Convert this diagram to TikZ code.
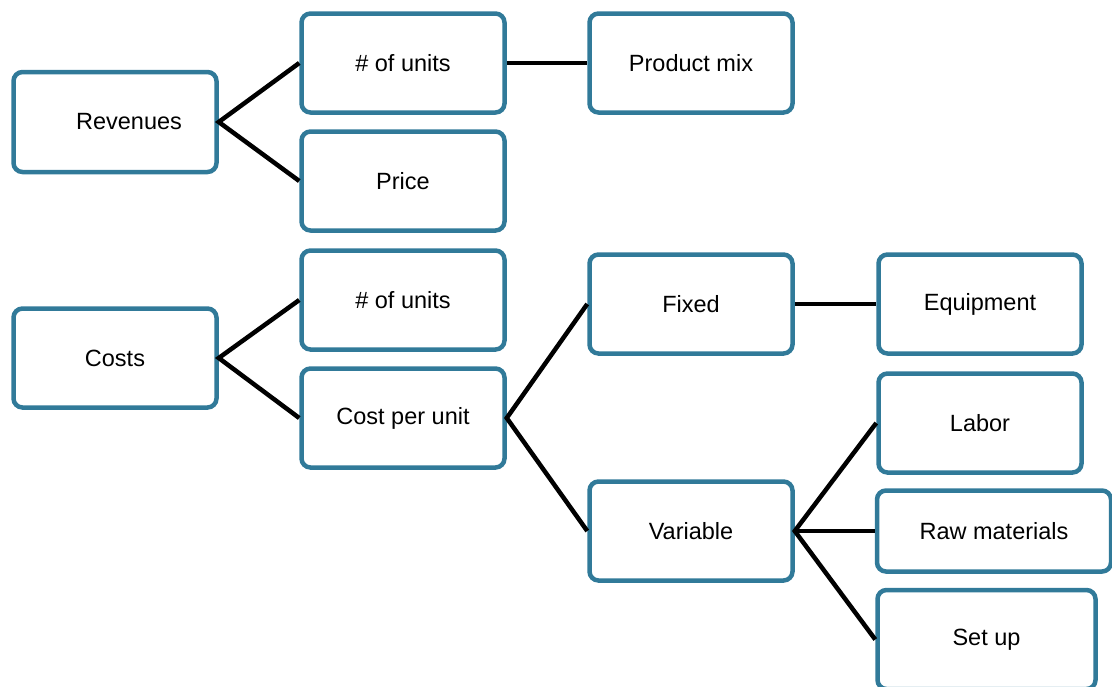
\documentclass[tikz,border=0pt]{standalone}
\usepackage{fontspec}
\setmainfont{Liberation Sans}
\usepackage{tikz}
\usetikzlibrary{positioning}
\definecolor{boxblue}{RGB}{49,122,153}

\tikzset{
  box/.style={draw=boxblue, line width=4.5pt, rounded corners=9pt, fill=white, inner sep=0pt,
    minimum width=203pt, minimum height=99pt, font=\fontsize{23.5}{28}\selectfont},
  link/.style={line width=4.5pt, black}
}

\begin{document}
\begin{tikzpicture}[x=1pt, y=-1pt]

\useasboundingbox (0,0) rectangle (1112,686);

% revenue side
\node[box, minimum height=100pt] (rev) at (115,122) {\hspace*{28pt}Revenues};
\node[box] (units1) at (403,63) {\# of units};
\node[box] (mix) at (691,63) {Product mix};
\node[box] (price) at (403,181) {Price};

% cost side
\node[box] (costs) at (115,358) {Costs};
\node[box] (units2) at (403,300) {\# of units};
\node[box] (cpu) at (403,418) {Cost per unit};
\node[box] (fixed) at (691,304) {Fixed};
\node[box] (var) at (691,531) {Variable};
\node[box] (equip) at (980,304) {Equipment};
\node[box] (labor) at (980,423) {Labor};
\node[box, minimum width=234pt, minimum height=81pt] (raw) at (994,531) {Raw materials};
\node[box, minimum width=218pt] (setup) at (986.5,639.5) {Set up};

\draw[link] (units1.west) -- (rev.east) -- (price.west);
\draw[link] (units1.east) -- (mix.west);
\draw[link] (units2.west) -- (costs.east) -- (cpu.west);
\draw[link] (fixed.west) -- (cpu.east) -- (var.west);
\draw[link] (fixed.east) -- (equip.west);
\draw[link] (labor.west) -- (var.east) -- (setup.west);
\draw[link] (var.east) -- (raw.west);

\end{tikzpicture}
\end{document}
